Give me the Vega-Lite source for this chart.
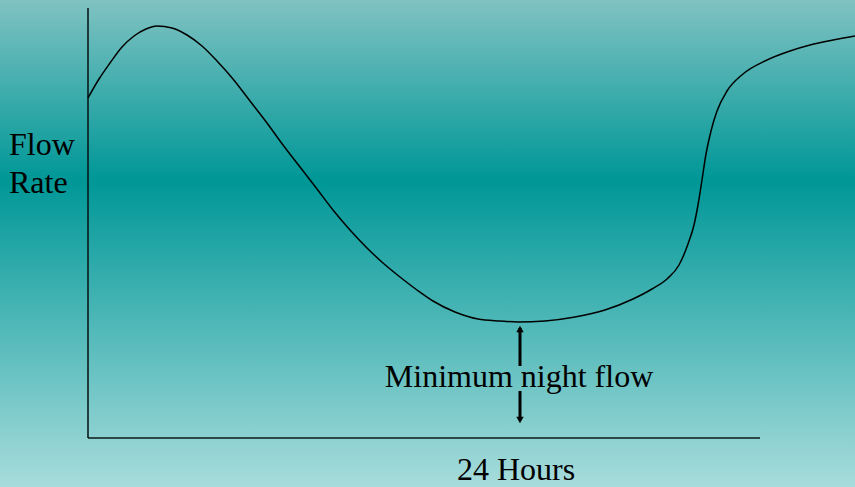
{
  "$schema": "https://vega.github.io/schema/vega-lite/v6.json",
  "width": 855,
  "height": 487,
  "autosize": {"type": "none"},
  "padding": 0,
  "background": "#5fb0b0",
  "config": {"view": {"stroke": null}},
  "datasets": {
    "bg": [{"x": 0, "x2": 855, "y": 0, "y2": 487}],
    "curve": [
      {"x": 88, "y": 389}, {"x": 99, "y": 408}, {"x": 110, "y": 424}, {"x": 122, "y": 440},
      {"x": 134, "y": 451}, {"x": 146, "y": 458}, {"x": 157, "y": 461}, {"x": 172, "y": 459},
      {"x": 187, "y": 452}, {"x": 202, "y": 441}, {"x": 217, "y": 426}, {"x": 233, "y": 408},
      {"x": 250, "y": 386}, {"x": 267, "y": 364}, {"x": 283, "y": 342}, {"x": 300, "y": 320},
      {"x": 317, "y": 298}, {"x": 333, "y": 277}, {"x": 350, "y": 257}, {"x": 367, "y": 239},
      {"x": 383, "y": 224}, {"x": 400, "y": 210}, {"x": 417, "y": 197}, {"x": 433, "y": 186},
      {"x": 455, "y": 175}, {"x": 478, "y": 168}, {"x": 500, "y": 166}, {"x": 518, "y": 165},
      {"x": 545, "y": 166}, {"x": 575, "y": 170}, {"x": 605, "y": 177}, {"x": 633, "y": 188},
      {"x": 652, "y": 198}, {"x": 667, "y": 208}, {"x": 679, "y": 222}, {"x": 688, "y": 243},
      {"x": 694, "y": 262}, {"x": 698, "y": 282}, {"x": 702, "y": 307}, {"x": 706, "y": 333},
      {"x": 711, "y": 356}, {"x": 717, "y": 376}, {"x": 727, "y": 396}, {"x": 743, "y": 413},
      {"x": 767, "y": 427}, {"x": 790, "y": 436}, {"x": 810, "y": 442}, {"x": 833, "y": 447},
      {"x": 855, "y": 451}
    ],
    "axes": [
      {"x": 88, "x2": 88, "y": 49, "y2": 479},
      {"x": 88, "x2": 760, "y": 49, "y2": 49}
    ],
    "shafts": [
      {"x": 520, "y": 159, "y2": 121},
      {"x": 520, "y": 96, "y2": 69}
    ],
    "heads": [
      {"x": 520, "y": 158, "dir": "up"},
      {"x": 520, "y": 67, "dir": "down"}
    ],
    "leftlabels": [
      {"x": 9, "y": 332, "t": "Flow"},
      {"x": 9, "y": 294, "t": "Rate"}
    ],
    "centerlabels": [
      {"x": 519, "y": 100, "t": "Minimum night flow"},
      {"x": 516, "y": 7, "t": "24 Hours"}
    ]
  },
  "encoding": {
    "x": {"field": "x", "type": "quantitative", "scale": {"domain": [0, 855], "nice": false, "zero": false}, "axis": null},
    "y": {"field": "y", "type": "quantitative", "scale": {"domain": [0, 487], "nice": false, "zero": false}, "axis": null}
  },
  "layer": [
    {
      "data": {"name": "bg"},
      "mark": {
        "type": "rect",
        "fill": {
          "gradient": "linear", "x1": 0, "y1": 0, "x2": 0, "y2": 1,
          "stops": [
            {"offset": 0, "color": "#80c2c2"},
            {"offset": 0.37, "color": "#009797"},
            {"offset": 1, "color": "#a8dcdc"}
          ]
        }
      },
      "encoding": {
        "x2": {"field": "x2"},
        "y2": {"field": "y2"}
      }
    },
    {
      "data": {"name": "axes"},
      "mark": {"type": "rule", "color": "#0a1a1a", "strokeWidth": 1.6},
      "encoding": {
        "x2": {"field": "x2"},
        "y2": {"field": "y2"}
      }
    },
    {
      "data": {"name": "curve"},
      "mark": {"type": "line", "color": "#000000", "strokeWidth": 1.5, "interpolate": "monotone"},
      "encoding": {}
    },
    {
      "data": {"name": "shafts"},
      "mark": {"type": "rule", "color": "#000000", "strokeWidth": 3},
      "encoding": {
        "y2": {"field": "y2"}
      }
    },
    {
      "data": {"name": "heads"},
      "mark": {"type": "point", "filled": true, "color": "#000000", "size": 55, "opacity": 1},
      "encoding": {
        "shape": {"field": "dir", "type": "nominal", "scale": {"domain": ["up", "down"], "range": ["triangle-up", "triangle-down"]}, "legend": null}
      }
    },
    {
      "data": {"name": "leftlabels"},
      "mark": {"type": "text", "font": "Liberation Serif", "fontSize": 32, "color": "#000000", "baseline": "alphabetic", "align": "left"},
      "encoding": {
        "text": {"field": "t"}
      }
    },
    {
      "data": {"name": "centerlabels"},
      "mark": {"type": "text", "font": "Liberation Serif", "fontSize": 32, "color": "#000000", "baseline": "alphabetic", "align": "center"},
      "encoding": {
        "text": {"field": "t"}
      }
    }
  ]
}
